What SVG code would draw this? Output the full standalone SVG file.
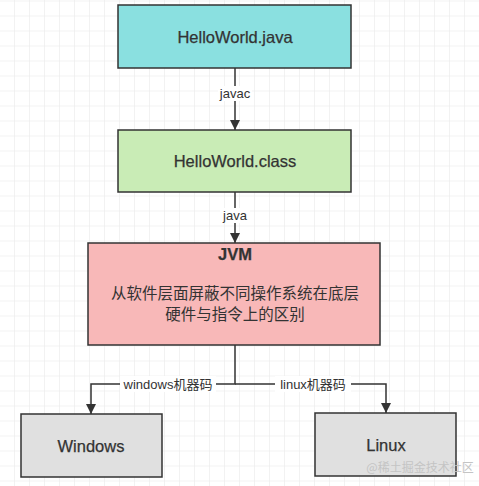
<svg xmlns="http://www.w3.org/2000/svg" width="479" height="486" viewBox="0 0 479 486">
<defs>
<pattern id="grid" x="14" y="0.5" width="15" height="15" patternUnits="userSpaceOnUse">
<path d="M0 0H15M0 0V15" fill="none" stroke="#e6e6e6" stroke-width="1"/>
</pattern>
<marker id="arr" viewBox="0 0 10 10" refX="10" refY="5" markerWidth="10" markerHeight="10" markerUnits="userSpaceOnUse" orient="auto">
<path d="M0 0L10 5L0 10Z" fill="#333"/>
</marker>
<style>
.box{stroke:#333;stroke-width:1.5}
.lbl{font-family:"Liberation Sans","Noto Sans CJK SC",sans-serif;font-size:16.5px;fill:#333;text-anchor:middle;stroke:#333;stroke-width:0.25}
.el{font-family:"Liberation Sans","Noto Sans CJK SC",sans-serif;font-size:13px;fill:#333;text-anchor:middle}
.cn{font-family:"Noto Sans CJK SC",sans-serif;font-size:15.5px;fill:#333;text-anchor:middle}
.edge{fill:none;stroke:#333;stroke-width:1.5}
</style>
</defs>
<rect width="479" height="486" fill="#fff"/>
<rect width="479" height="486" fill="url(#grid)"/>

<g id="connectors">
<path class="edge" d="M235 68V130" marker-end="url(#arr)"/>
<rect x="218" y="86" width="34" height="15" fill="#fff"/>
<text class="el" x="235" y="98">javac</text>
<path class="edge" d="M235 192V243" marker-end="url(#arr)"/>
<rect x="220" y="208" width="30" height="15" fill="#fff"/>
<text class="el" x="235" y="220">java</text>
<path class="edge" d="M235 345V384H91V414" marker-end="url(#arr)"/>
<path class="edge" d="M235 384H386V413" marker-end="url(#arr)"/>
<rect x="120" y="376" width="96" height="16" fill="#fff"/>
<text class="el" x="168" y="389">windows机器码</text>
<rect x="275" y="376" width="76" height="16" fill="#fff"/>
<text class="el" x="313" y="389">linux机器码</text>
</g>

<g id="java">
<rect class="box" x="118" y="5" width="233" height="63" fill="#8ae0e0"/>
<text class="lbl" x="235" y="43">HelloWorld.java</text>
</g>
<g id="class">
<rect class="box" x="118" y="130" width="233" height="62" fill="#c9ecb6"/>
<text class="lbl" x="235" y="167">HelloWorld.class</text>
</g>
<g id="jvm">
<rect class="box" x="88" y="243" width="292" height="102" fill="#f8b8b8"/>
<text class="lbl" x="235" y="260" font-weight="bold">JVM</text>
<text class="cn" x="235" y="299">从软件层面屏蔽不同操作系统在底层</text>
<text class="cn" x="235" y="320">硬件与指令上的区别</text>
</g>
<g id="windows">
<rect class="box" x="21" y="414" width="141" height="63" fill="#e0e0e0"/>
<text class="lbl" x="91" y="452">Windows</text>
</g>
<g id="linux">
<rect class="box" x="315" y="413" width="141" height="63" fill="#e0e0e0"/>
<text class="lbl" x="386" y="451">Linux</text>
</g>
<text x="420" y="472" font-family="Noto Sans CJK SC,sans-serif" font-size="12" fill="#c4c4c4" text-anchor="middle">@稀土掘金技术社区</text>
</svg>
